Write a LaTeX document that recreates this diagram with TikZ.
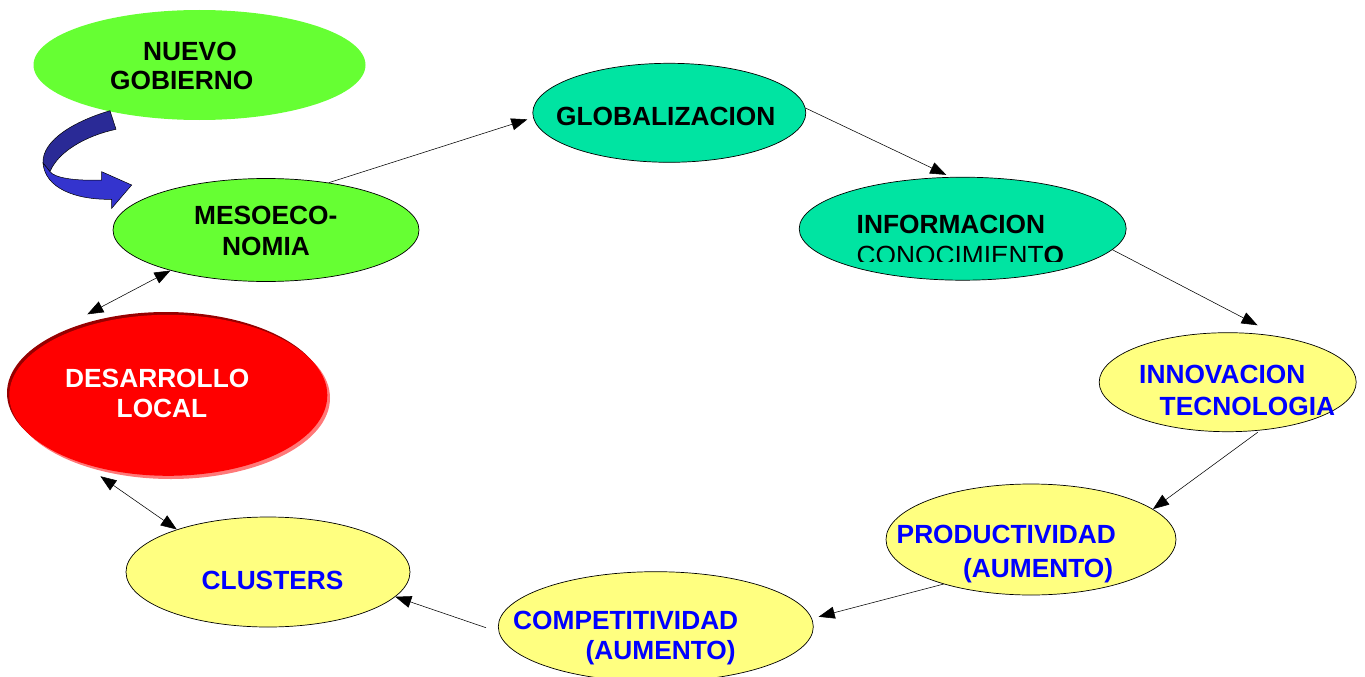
\documentclass[tikz,border=0pt]{standalone}
\usepackage{fontspec}
\setmainfont{Liberation Sans}
\usetikzlibrary{shapes.geometric,arrows.meta}
\definecolor{lgreen}{RGB}{102,255,51}
\definecolor{seagreen}{RGB}{0,228,162}
\definecolor{lyellow}{RGB}{255,255,128}
\definecolor{tblue}{RGB}{0,0,255}
\definecolor{navyA}{RGB}{42,42,150}
\definecolor{navyB}{RGB}{52,52,206}
\definecolor{darkred}{RGB}{150,0,0}
\definecolor{pinkred}{RGB}{255,120,120}
\begin{document}
\begin{tikzpicture}[x=1pt,y=-1pt,
  oval/.style={ellipse,inner sep=0pt,draw=black,line width=0.7pt},
  lbl/.style={anchor=base west,inner sep=0pt,font=\fontsize{26.3}{30}\selectfont\bfseries},
  conn/.style={line width=0.55pt,draw=black,-{Triangle[length=16pt,width=12pt]}},
  dconn/.style={line width=0.55pt,draw=black,{Triangle[length=16pt,width=12pt]}-{Triangle[length=16pt,width=12pt]}}]
\useasboundingbox (0,0) rectangle (1365,677);

% ellipses
\node[ellipse,inner sep=0pt,fill=lgreen,minimum width=332,minimum height=110] (nuevo) at (199.5,65) {};
\node[oval,fill=lgreen,minimum width=306,minimum height=103] (meso) at (266,230) {};
\node[oval,fill=seagreen,minimum width=273,minimum height=99] (glob) at (669.3,112.8) {};
\node[oval,fill=seagreen,minimum width=327,minimum height=103] (info) at (962.7,228.7) {};
\node[oval,fill=lyellow,minimum width=257,minimum height=99] (innov) at (1227.7,382.2) {};
\node[oval,fill=lyellow,minimum width=290,minimum height=111] (prod) at (1031,539.5) {};
\node[oval,fill=lyellow,minimum width=315,minimum height=110] (comp) at (655.8,626.7) {};
\node[oval,fill=lyellow,minimum width=284,minimum height=110] (clus) at (268,572) {};
\fill[pinkred] (171,398) ellipse [x radius=159,y radius=81];
\fill[darkred] (166,393) ellipse [x radius=159,y radius=81];
\node[ellipse,inner sep=0pt,fill=red,minimum width=318,minimum height=161] (dev) at (168.3,395.3) {};

% texts
\node[lbl] (t1a) at (143,60.5) {NUEVO};
\node[lbl] (t1b) at (110,89) {GOBIERNO};
\node[lbl] (t2a) at (194,224) {MESOECO-};
\node[lbl] (t2b) at (222,255) {NOMIA};
\node[lbl] (t3) at (556,125.5) {GLOBALIZACION};
\node[lbl] (t4a) at (856.5,233) {INFORMACION};
\begin{scope}
\clip (790,236) rectangle (1130,261);
\node[lbl] (t4b) at (856.5,264.5) {\mdseries CONOCIMIENT\bfseries O};
\end{scope}
\node[lbl,text=tblue] (t5a) at (1139,383) {INNOVACION};
\node[lbl,text=tblue] (t5b) at (1159.5,415) {TECNOLOGIA};
\node[lbl,text=tblue] (t6a) at (896.5,543) {PRODUCTIVIDAD};
\node[lbl,text=tblue] (t6b) at (963,577) {(AUMENTO)};
\node[lbl,text=tblue] (t7a) at (513,629) {COMPETITIVIDAD};
\node[lbl,text=tblue] (t7b) at (585.5,659) {(AUMENTO)};
\node[lbl,text=tblue] (t8) at (201.5,589) {CLUSTERS};
\node[lbl,text=white] (t9a) at (65,387) {DESARROLLO};
\node[lbl,text=white] (t9b) at (116.5,417) {LOCAL};

% connectors
\draw[conn,shorten >=6pt] (meso.37) -- (glob.182);
\draw[conn,shorten >=5pt] (glob.2) -- (info.103);
\draw[conn] (info.-8) -- ([shift={(5,-8)}]innov.63);
\draw[conn,shorten <=3pt] (innov.-56) -- (prod.14);
\draw[conn,shorten >=7pt] (prod.207) -- (comp.3);
\draw[conn] ([shift={(-12,1)}]comp.180) -- (clus.-11);
\draw[dconn] (clus.155) -- ([shift={(-5.6,6.7)}]dev.230);
\draw[dconn] ([shift={(-9,-9)}]dev.135) -- (meso.203);

% curved blue arrow
\fill[navyA,draw=black,line width=0.5pt]
  (110,110.7) .. controls (75,121) and (42,140) .. (43,163)
  -- (50,171.7) .. controls (58,152) and (85,136) .. (116,129.3) -- cycle;
\fill[navyB,draw=black,line width=0.5pt]
  (43,163) .. controls (45,188) and (75,200) .. (111.7,199.3)
  -- (111.7,208.3) -- (131.7,185) -- (101.7,171.7) -- (101.7,180)
  .. controls (75,181) and (55,178) .. (50,171.7) -- cycle;
\end{tikzpicture}
\end{document}
